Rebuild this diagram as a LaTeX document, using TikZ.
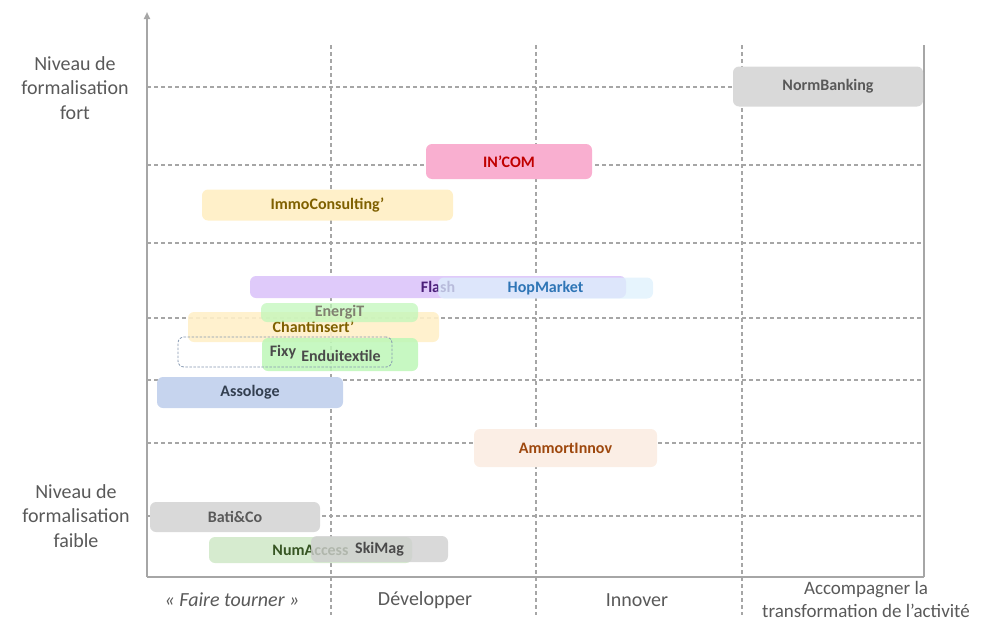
\documentclass[tikz,border=0pt]{standalone}
\usepackage{fontspec}
\setmainfont{Carlito}
\usetikzlibrary{arrows.meta}
\definecolor{axisgray}{HTML}{A6A6A6}
\definecolor{labgray}{HTML}{595959}
\definecolor{boxgray}{HTML}{D9D9D9}
\definecolor{incomfill}{HTML}{F9AFD0}
\definecolor{incomtext}{HTML}{C00000}
\definecolor{yellowfill}{HTML}{FFF0C9}
\definecolor{yellowtext}{HTML}{7F6000}
\definecolor{flashfill}{HTML}{DFCAFA}
\definecolor{flashtext}{HTML}{4B1F7A}
\definecolor{hopfill}{HTML}{DDF0FC}
\definecolor{hoptext}{HTML}{2E75B6}
\definecolor{greenfill}{HTML}{BDF7B7}
\definecolor{energitext}{HTML}{808070}
\definecolor{darktext}{HTML}{4A4A4A}
\definecolor{fixyborder}{HTML}{8497B0}
\definecolor{assofill}{HTML}{C6D4EE}
\definecolor{assotext}{HTML}{333F50}
\definecolor{ammofill}{HTML}{FBEEE5}
\definecolor{ammotext}{HTML}{9E480E}
\definecolor{numfill}{HTML}{D6EBCF}
\definecolor{numtext}{HTML}{375623}
\definecolor{skifill}{HTML}{CFCFCF}
\tikzset{
  bar/.style={rounded corners=6pt, inner sep=0pt, font=\fontsize{16}{19}\selectfont\bfseries},
  gridline/.style={axisgray, line width=1.1pt, dash pattern=on 4pt off 3pt},
  axisline/.style={axisgray, line width=1.8pt},
  axislabel/.style={labgray, align=center, font=\fontsize{20}{24.5}\selectfont, inner sep=0pt}
}
\begin{document}
\begin{tikzpicture}[x=1pt,y=-1pt]
\useasboundingbox (0,0) rectangle (982,621);
% grid
\foreach \yy in {87,165,243,318,380,443,516}
  \draw[gridline] (147,\yy) -- (924,\yy);
\foreach \xx in {331,536,742}
  \draw[gridline] (\xx,45) -- (\xx,615);
% axes
\draw[axisline] (147,577) -- (924,577);
\draw[axisline] (924,577) -- (924,45);
\draw[axisline, -{Triangle[length=7pt,width=6pt]}] (147,577) -- (147,12);
% bars
\node[bar, fill=boxgray, text=labgray, minimum width=190pt, minimum height=40pt] (norm) at (828,86.5) {NormBanking};
\node[bar, fill=incomfill, text=incomtext, minimum width=166pt, minimum height=35pt] (incom) at (509,161.5) {IN’COM};
\node[bar, fill=yellowfill, text=yellowtext, minimum width=251pt, minimum height=31pt] (immo) at (327.5,205) {ImmoConsulting’};
\node[bar, fill=flashfill, text=flashtext, minimum width=376pt, minimum height=22pt] (flash) at (438,287) {Flash};
\node[bar, fill=hopfill, fill opacity=0.75, text opacity=1, text=hoptext, minimum width=215pt, minimum height=21pt] (hop) at (545.5,288) {HopMarket};
\node[bar, fill=yellowfill, fill opacity=0.9, text opacity=1, text=yellowtext, minimum width=251pt, minimum height=30pt] (chant) at (313.5,327) {Chantinsert’};
\node[bar, fill=greenfill, fill opacity=0.7, text opacity=1, text=energitext, minimum width=157pt, minimum height=19pt] (energi) at (339.5,312.5) {EnergiT};
\node[bar, fill=greenfill, fill opacity=0.85, minimum width=156pt, minimum height=33pt] (endu) at (340,354.5) {};
\node[bar, draw=fixyborder, line width=0.8pt, dash pattern=on 2.5pt off 1.5pt, minimum width=214pt, minimum height=30pt] (fixybox) at (285,352) {};
\node[bar, text=darktext] (fixy) at (283,352) {Fixy};
\node[bar, text=darktext] (endutext) at (341,356) {Enduitextile};
\node[bar, fill=assofill, text=assotext, minimum width=186pt, minimum height=31pt] (asso) at (250,392.5) {Assologe};
\node[bar, fill=ammofill, text=ammotext, minimum width=183pt, minimum height=38pt] (ammo) at (565.5,448) {AmmortInnov};
\node[bar, fill=boxgray, text=labgray, minimum width=170pt, minimum height=30pt] (bati) at (235,517) {Bati\&Co};
\node[bar, fill=numfill, text=numtext, minimum width=203pt, minimum height=26pt] (num) at (310.5,550) {NumAccess};
\node[bar, fill=skifill, fill opacity=0.8, text opacity=1, text=darktext, minimum width=137pt, minimum height=26pt] (ski) at (379.5,549) {SkiMag};
% axis labels
\node[axislabel] (yhigh) at (75,88) {Niveau de\\formalisation\\fort};
\node[axislabel] (ylow) at (76,516) {Niveau de\\formalisation\\faible};
\node[axislabel, font=\fontsize{20}{24.5}\selectfont\itshape] (x1) at (232,600) {« Faire tourner »};
\node[axislabel] (x2) at (425,600) {Développer};
\node[axislabel] (x3) at (637,600) {Innover};
\node[axislabel, font=\fontsize{19}{23.5}\selectfont] (x4) at (866,599.5) {Accompagner la\\transformation de l’activité};
\end{tikzpicture}
\end{document}
